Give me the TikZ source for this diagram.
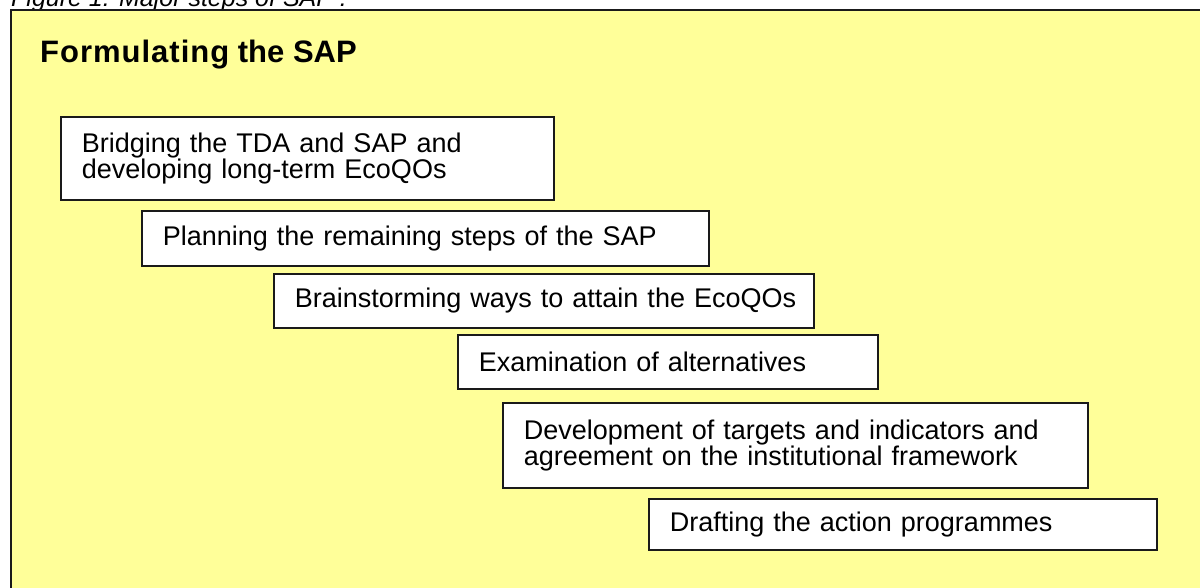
\documentclass[tikz,border=0pt]{standalone}
\usepackage{fontspec}
\setmainfont{Liberation Sans}
\definecolor{bgyellow}{HTML}{FFFF99}
\definecolor{edge}{HTML}{1A1A1A}
\begin{document}
\begin{tikzpicture}[x=1pt,y=-1pt,
  stepbox/.style={draw=edge, line width=1.8pt, fill=white, anchor=north west,
    align=left, inner xsep=21pt, inner ysep=0pt,
    font=\fontsize{27}{26}\selectfont},
  panel/.style={draw=edge, line width=2pt, fill=bgyellow}]
\useasboundingbox (0,0) rectangle (1200,587);
\clip (0,0) rectangle (1200,587);
\fill[white] (0,0) rectangle (1200,587);
\node[anchor=base west, inner sep=0pt, font=\itshape\fontsize{25}{25}\selectfont] (cap) at (11,6) {Figure 1: Major steps of SAP :};
\draw[panel] (11,10) rectangle (1215,600);
\node[anchor=base west, inner sep=0pt, font=\bfseries\fontsize{31}{31}\selectfont] (title) at (40,62) {F\kern1pt o\kern1pt r\kern1pt m\kern1pt u\kern1pt l\kern1pt a\kern1pt t\kern1pt i\kern1pt n\kern1pt g the SAP};
\node[stepbox, text width=451pt, minimum width=493pt, minimum height=83pt] (s1) at (60,116) {\mbox{Bridging the TDA and SAP and}\\\mbox{developing long-term EcoQOs}};
\node[stepbox, text width=525pt, minimum width=567pt, minimum height=55pt] (s2) at (141,210) {\mbox{Planning the remaining steps of the SAP}};
\node[stepbox, text width=498pt, minimum width=540pt, minimum height=54pt] (s3) at (273,273) {\mbox{Brainstorming ways to attain the EcoQOs}};
\node[stepbox, text width=378pt, minimum width=420pt, minimum height=54pt] (s4) at (457,334) {\mbox{Examination of alternatives}};
\node[stepbox, text width=543pt, minimum width=585pt, minimum height=85pt] (s5) at (502,402) {\mbox{Development of targets and indicators and}\\\mbox{agreement on the institutional framework}};
\node[stepbox, text width=466pt, minimum width=508pt, minimum height=51pt] (s6) at (648,498) {\mbox{Drafting the action programmes}};
\end{tikzpicture}
\end{document}
